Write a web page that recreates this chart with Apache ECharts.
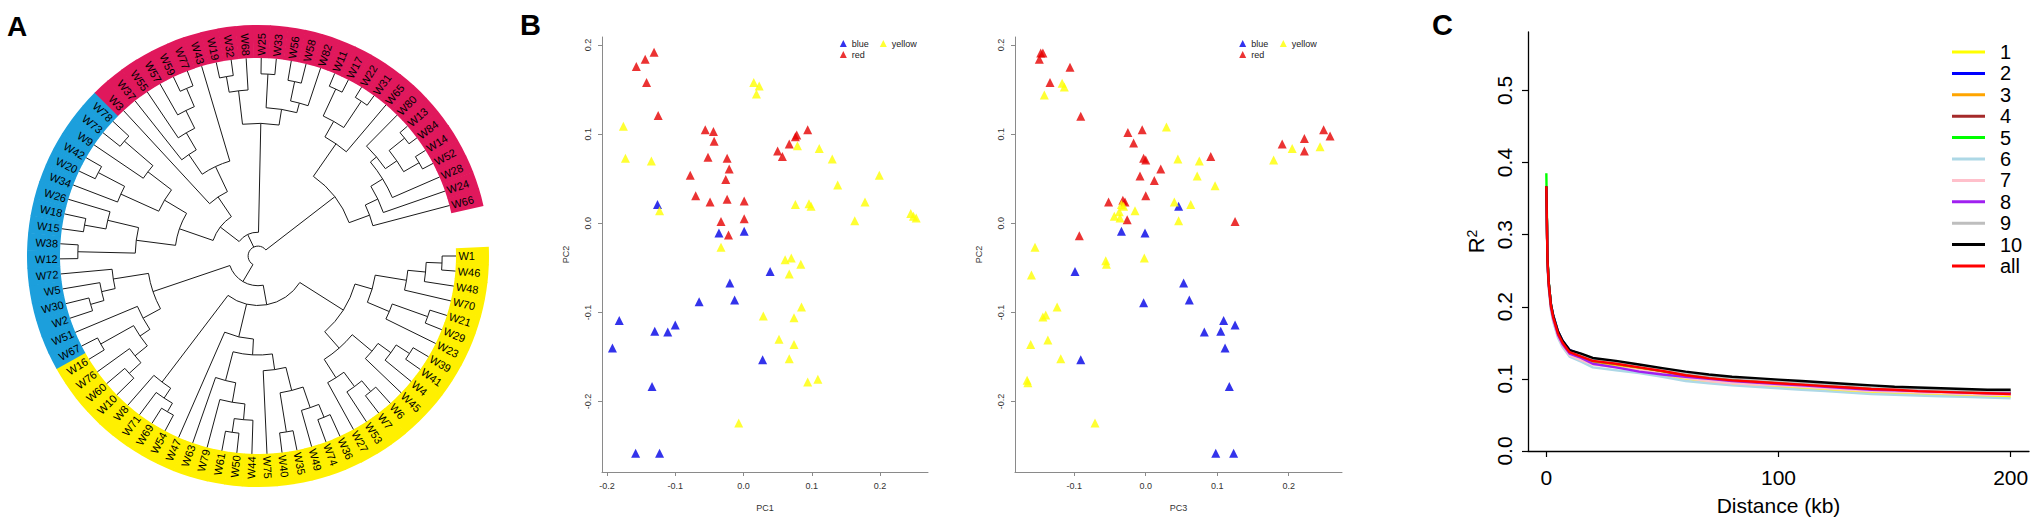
<!DOCTYPE html>
<html>
<head>
<meta charset="utf-8">
<title>Clustering, PCA and LD decay</title>
<script src="https://cdn.jsdelivr.net/npm/echarts@6.0.0/dist/echarts.min.js"></script>
<style>
  html, body { margin: 0; padding: 0; background: #fff; }
  #main { width: 2033px; height: 521px; }
</style>
</head>
<body>
<div id="main"></div>
<script>
// ---------- A: tree (tips clockwise from W1, node value = distance from centre, tips = 1) ----------
var cladeA1 = "((((W1,W46)0.93,W48)0.85,W70)0.76,((W21,W29)0.91,W23)0.72)0.60";
var cladeA2 = "((((W39,W41)0.91,W4)0.83,W45)0.75,(((W6,W7)0.89,W53)0.82,W27)0.73)0.62";
var cladeB1 = "((((W36,W74)0.88,W49)0.81,(W35,W40)0.90)0.70,W75)0.58";
var cladeB2 = "(((W44,(W50,W61)0.90)0.83,W79)0.75,W63)0.65";
var cladeC  = "(((W54,W69)0.91,W71)0.86,W8)0.80";
var cladeBlueLow = "(((((W10,W60)0.88,W76)0.80,(W16,W67)0.91)0.72,W51)0.66,(((W2,W30)0.88,W5)0.81,W72)0.74)0.56";
var cladeBlueUp = "(((W12,W38)0.91,((W15,W18)0.89,W26)0.78)0.62,((W34,(W20,W42)0.91)0.76,(W9,(W73,W78)0.89)0.70)0.55)0.42";
var cladeRedLeft = "(W3,((W37,(W55,(W57,(W59,W77)0.92)0.82)0.72)0.62,W43)0.50)0.36";
var cladeRedMid = "(((W19,W32)0.92,W68)0.84,((W25,W33)0.92,((W56,W58)0.90,W82)0.80)0.75)0.67";
var cladeRedR1 = "(((W11,W17)0.93,(W22,W31)0.94)0.78,W65)0.69";
var cladeRedR2 = "((((W80,((W13,W84)0.95,(W14,W52)0.94)0.85)0.78,W28)0.74,W24)0.67,W66)0.60";

var lowerClade = "(((" + cladeA1 + "," + cladeA2 + ")0.51,((" + cladeB1 + "," + cladeB2 + ")0.50,W47)0.42," + cladeC + ")0.25," + cladeBlueLow + ")0.15";
var upperClade = "((" + cladeBlueUp + "," + cladeRedLeft + ")0.24," + cladeRedMid + ")0.12";
var redRightClade = "(" + cladeRedR1 + "," + cladeRedR2 + ")0.49";
var treeNewick = "(" + lowerClade + "," + upperClade + "," + redRightClade + ")0.05";

var redTips = ['W3','W37','W55','W57','W59','W77','W43','W19','W32','W68','W25','W33','W56','W58','W82',
  'W11','W17','W22','W31','W65','W80','W13','W84','W14','W52','W28','W24','W66'];
var blueTips = ['W67','W51','W2','W30','W5','W72','W12','W38','W15','W18','W26','W34','W20','W42','W9','W73','W78'];

// ---------- B: PCA (left PC1 vs PC2, right PC3 vs PC2) ----------
var pcTicks = [-0.2, -0.1, 0, 0.1, 0.2];
var redPC1 = [-0.157,-0.144,-0.131,-0.142,-0.125,-0.056,-0.044,-0.043,-0.052,-0.024,-0.021,-0.078,-0.026,-0.070,-0.049,-0.024,-0.033,-0.022,0.050,0.057,0.067,0.076,0.078,0.094,0.001,0.001];
var redPC2a = [0.176,0.184,0.192,0.158,0.121,0.105,0.103,0.092,0.074,0.073,0.061,0.054,0.049,0.031,0.024,0.027,0.002,-0.013,0.081,0.075,0.089,0.097,0.099,0.105,0.025,0.005];
var bluePC1 = [-0.126,-0.036,-0.020,-0.013,-0.065,-0.182,-0.192,-0.130,-0.111,-0.100,-0.134,-0.158,-0.123,0.001,0.039,0.028];
var bluePC2a = [0.021,-0.011,-0.067,-0.086,-0.088,-0.109,-0.140,-0.121,-0.122,-0.114,-0.183,-0.258,-0.258,-0.009,-0.054,-0.153];
var yellowPC1 = [-0.176,-0.173,-0.135,-0.123,-0.033,-0.007,0.015,0.023,0.019,0.079,0.111,0.130,0.199,0.138,0.076,0.096,0.099,0.178,0.163,0.245,0.249,0.253,0.061,0.070,0.084,0.067,0.085,0.029,0.074,0.052,0.074,0.067,0.094,0.109];
var yellowPC2a = [0.109,0.073,0.070,0.014,-0.027,-0.224,0.158,0.154,0.145,0.087,0.084,0.072,0.054,0.043,0.021,0.022,0.019,0.024,0.003,0.011,0.008,0.006,-0.041,-0.039,-0.046,-0.057,-0.094,-0.104,-0.106,-0.130,-0.136,-0.152,-0.178,-0.175];

var redPC3 = [-0.147,-0.149,-0.144,-0.106,-0.134,-0.091,-0.025,-0.005,-0.017,-0.003,0.000,0.091,0.021,-0.008,0.012,0.000,-0.052,-0.032,-0.029,-0.026,0.125,-0.093,0.191,0.222,0.222,0.249,0.258];
var redPC2b = [0.191,0.184,0.191,0.175,0.158,0.120,0.102,0.105,0.090,0.073,0.071,0.075,0.061,0.053,0.048,0.031,0.024,0.026,0.024,0.004,0.002,-0.014,0.089,0.095,0.081,0.105,0.098];
var bluePC3 = [0.046,-0.034,-0.001,-0.099,0.053,0.061,-0.003,0.109,0.125,0.082,0.105,0.111,-0.091,0.117,0.098,0.123];
var bluePC2b = [0.019,-0.009,-0.011,-0.054,-0.067,-0.086,-0.089,-0.109,-0.114,-0.122,-0.121,-0.140,-0.153,-0.183,-0.258,-0.258];
var yellowPC3 = [-0.117,-0.114,-0.142,0.029,0.045,0.075,0.072,0.097,0.040,0.063,0.046,-0.015,-0.034,-0.037,-0.044,-0.036,-0.031,-0.155,-0.056,-0.055,-0.002,-0.160,-0.124,-0.144,-0.140,-0.161,-0.137,-0.119,-0.166,-0.165,-0.071,0.179,0.205,0.244];
var yellowPC2b = [0.157,0.153,0.144,0.108,0.072,0.070,0.053,0.042,0.024,0.021,0.003,0.014,0.021,0.013,0.008,0.006,0.019,-0.027,-0.042,-0.046,-0.039,-0.058,-0.094,-0.105,-0.103,-0.136,-0.131,-0.152,-0.176,-0.179,-0.224,0.071,0.084,0.086];

// ---------- C: LD decay ----------
var ldDist = [0,0.5,1,2,3,5,7,10,15,20,30,40,50,60,70,80,90,100,110,120,130,140,150,160,170,180,190,200];
var ld1  = [0.365,0.262,0.230,0.198,0.182,0.160,0.147,0.134,0.128,0.122,0.117,0.112,0.106,0.100,0.096,0.093,0.091,0.089,0.087,0.085,0.083,0.081,0.080,0.079,0.078,0.077,0.076,0.075];
var ld2  = [0.366,0.265,0.234,0.203,0.188,0.166,0.153,0.140,0.134,0.128,0.124,0.118,0.112,0.107,0.103,0.100,0.098,0.096,0.093,0.091,0.089,0.087,0.085,0.084,0.082,0.081,0.080,0.079];
var ld3  = [0.364,0.262,0.232,0.200,0.184,0.162,0.149,0.136,0.130,0.124,0.120,0.115,0.110,0.104,0.100,0.097,0.095,0.093,0.091,0.089,0.087,0.085,0.084,0.083,0.081,0.080,0.079,0.079];
var ld4  = [0.366,0.264,0.233,0.201,0.185,0.164,0.151,0.138,0.132,0.126,0.122,0.117,0.112,0.106,0.102,0.099,0.097,0.095,0.093,0.091,0.089,0.087,0.086,0.085,0.084,0.083,0.082,0.082];
var ld5  = [0.385,0.268,0.235,0.202,0.186,0.164,0.150,0.137,0.131,0.125,0.121,0.116,0.111,0.105,0.101,0.098,0.096,0.094,0.092,0.090,0.088,0.086,0.085,0.084,0.083,0.082,0.081,0.080];
var ld6  = [0.362,0.258,0.227,0.195,0.179,0.157,0.144,0.131,0.124,0.116,0.112,0.108,0.103,0.097,0.094,0.091,0.089,0.087,0.085,0.083,0.081,0.079,0.078,0.077,0.076,0.075,0.074,0.073];
var ld7  = [0.363,0.260,0.229,0.197,0.181,0.159,0.146,0.133,0.126,0.120,0.116,0.112,0.107,0.101,0.097,0.094,0.092,0.091,0.089,0.087,0.085,0.083,0.082,0.081,0.080,0.079,0.078,0.078];
var ld8  = [0.364,0.261,0.230,0.199,0.183,0.161,0.148,0.135,0.129,0.121,0.116,0.110,0.106,0.103,0.100,0.097,0.095,0.093,0.091,0.089,0.087,0.085,0.084,0.083,0.082,0.081,0.080,0.080];
var ld9  = [0.366,0.264,0.233,0.202,0.186,0.165,0.152,0.139,0.133,0.127,0.123,0.118,0.113,0.108,0.104,0.101,0.099,0.097,0.095,0.093,0.091,0.089,0.087,0.086,0.085,0.084,0.083,0.083];
var ld10 = [0.367,0.265,0.234,0.203,0.187,0.166,0.153,0.140,0.135,0.129,0.125,0.120,0.115,0.110,0.106,0.103,0.101,0.099,0.097,0.095,0.093,0.091,0.089,0.088,0.087,0.086,0.085,0.085];
var ldAll = [0.367,0.264,0.233,0.201,0.185,0.163,0.150,0.137,0.131,0.125,0.121,0.116,0.111,0.105,0.101,0.098,0.096,0.094,0.092,0.090,0.088,0.086,0.085,0.083,0.082,0.081,0.080,0.079];
var ldNames = ['1','2','3','4','5','6','7','8','9','10','all'];
var ldSeries = [ld1, ld2, ld3, ld4, ld5, ld6, ld7, ld8, ld9, ld10, ldAll];
var ldColors = ['#ffff00','#0000ff','#ffa500','#a52a2a','#00ff00','#add8e6','#ffc0cb','#a020f0','#bebebe','#000000','#ff0000'];
var ldTicksX = [0, 100, 200];
var ldTicksY = [0, 0.1, 0.2, 0.3, 0.4, 0.5];

// ---------- layout ----------
var FONT = 'Liberation Sans, Arial, Helvetica, sans-serif';
var tipStep = 4.37;            // degrees between neighbouring tips
var ringOuter = 231 / 198;     // ring outer edge in tip units
var ringColors = { red: '#e0185c', blue: '#1c9fdc', yellow: '#fff000' };

function parseNewick(s) {
  var pos = 0;
  function node() {
    if (s[pos] === '(') {
      pos++;
      var kids = [];
      while (true) {
        kids.push(node());
        if (s[pos] === ',') { pos++; continue; }
        pos++; // ')'
        break;
      }
      var m = /^[0-9.]+/.exec(s.slice(pos));
      pos += m[0].length;
      return { r: parseFloat(m[0]), kids: kids };
    }
    var n = /^[A-Za-z0-9]+/.exec(s.slice(pos))[0];
    pos += n.length;
    return { name: n, r: 1 };
  }
  return node();
}

var tips = [], radials = [], arcs = [];
function layoutTree(n) {
  if (!n.kids) { n.a = -tips.length * tipStep; tips.push(n); return; }
  n.kids.forEach(layoutTree);
  var first = n.kids[0].a, last = n.kids[n.kids.length - 1].a;
  n.a = (first + last) / 2;
  arcs.push([n.r, first, last]);
  n.kids.forEach(function (k) { radials.push([n.r, k.a, k.r]); });
}
layoutTree(parseNewick(treeNewick));

function groupOf(name) {
  if (redTips.indexOf(name) >= 0) return 'red';
  if (blueTips.indexOf(name) >= 0) return 'blue';
  return 'yellow';
}
function dist(p, c) { return Math.sqrt((p[0] - c[0]) * (p[0] - c[0]) + (p[1] - c[1]) * (p[1] - c[1])); }
function ang(p, c) { return Math.atan2(p[1] - c[1], p[0] - c[0]); }

function renderRadial(params, api) {
  var a = api.value(1);
  var p1 = api.coord([api.value(0), a]);
  var p2 = api.coord([api.value(2), a]);
  return { type: 'line', shape: { x1: p1[0], y1: p1[1], x2: p2[0], y2: p2[1] },
    style: { stroke: '#1a1a1a', lineWidth: 1 } };
}
function renderArc(params, api) {
  var c = api.coord([0, 0]);
  var r = api.value(0);
  var p1 = api.coord([r, api.value(1)]), p2 = api.coord([r, api.value(2)]);
  var s = ang(p1, c), e = ang(p2, c);
  while (e < s) e += 2 * Math.PI;
  return { type: 'arc', shape: { cx: c[0], cy: c[1], r: dist(p1, c), startAngle: s, endAngle: e, clockwise: true },
    style: { stroke: '#1a1a1a', fill: null, lineWidth: 1 } };
}
function renderTip(params, api) {
  var t = tips[params.dataIndex];
  var a = api.value(1);
  var c = api.coord([0, 0]);
  var r0 = dist(api.coord([1, a]), c);
  var r1 = dist(api.coord([ringOuter, a]), c);
  var s = ang(api.coord([1, a + tipStep / 2 + 0.08]), c);
  var e = ang(api.coord([1, a - tipStep / 2 - 0.08]), c);
  while (e < s) e += 2 * Math.PI;
  var deg = ((a % 360) + 360) % 360;
  var rad = deg * Math.PI / 180;
  var right = Math.cos(rad) >= 0;
  var lp = api.coord([1.012, a]);
  return { type: 'group', children: [
    { type: 'sector', shape: { cx: c[0], cy: c[1], r0: r0, r: r1, startAngle: s, endAngle: e, clockwise: true },
      style: { fill: ringColors[groupOf(t.name)] } },
    { type: 'text', x: lp[0], y: lp[1], rotation: right ? rad : rad - Math.PI,
      style: { text: t.name, x: 0, y: 0, align: right ? 'left' : 'right', verticalAlign: 'middle',
        fontSize: 11, fontFamily: FONT, fill: '#000' } }
  ] };
}

function zip(a, b) { return a.map(function (v, i) { return [v, b[i]]; }); }
function fmt1(v) { return v.toFixed(1); }

var pcAxisLine = { show: true, onZero: false, lineStyle: { color: '#8a8a8a', width: 1 } };
function pcX(grid, min, max, name) {
  return { gridIndex: grid, type: 'value', min: min, max: max,
    axisLine: pcAxisLine,
    axisTick: { show: true, customValues: pcTicks, length: 4, lineStyle: { color: '#8a8a8a' } },
    axisLabel: { customValues: pcTicks, formatter: fmt1, fontSize: 9, color: '#333', margin: 9, fontFamily: FONT },
    splitLine: { show: false },
    name: name, nameLocation: 'middle', nameGap: 31, nameTextStyle: { fontSize: 9, color: '#333', fontFamily: FONT } };
}
function pcY(grid, name) {
  return { gridIndex: grid, type: 'value', min: -0.279, max: 0.209,
    axisLine: pcAxisLine,
    axisTick: { show: true, customValues: pcTicks, length: 4, lineStyle: { color: '#8a8a8a' } },
    axisLabel: { customValues: pcTicks, formatter: fmt1, fontSize: 9, color: '#333', margin: 10, rotate: 90, fontFamily: FONT },
    splitLine: { show: false },
    name: name, nameLocation: 'middle', nameGap: 32, nameRotate: 90, nameTextStyle: { fontSize: 9, color: '#333', fontFamily: FONT } };
}
var pcColors = { blue: '#0000e6', red: '#e60000', yellow: '#ffff00' };
function pcSeries(name, grid, data) {
  return { type: 'scatter', name: name, xAxisIndex: grid, yAxisIndex: grid, data: data,
    symbol: 'triangle', symbolSize: 9, itemStyle: { color: pcColors[name] }, silent: true };
}
function pcLegend(names, left) {
  return { data: names, orient: 'vertical', left: left, top: 38, padding: 0, itemGap: 0,
    itemWidth: 7, itemHeight: 7, icon: 'triangle', selectedMode: false,
    textStyle: { fontSize: 9, color: '#222', lineHeight: 11, fontFamily: FONT } };
}

var series = [
  { type: 'custom', name: 'ring', coordinateSystem: 'polar', polarIndex: 0, silent: true,
    data: tips.map(function (t) { return [1, t.a]; }), renderItem: renderTip },
  { type: 'custom', name: 'radial', coordinateSystem: 'polar', polarIndex: 0, silent: true,
    data: radials, renderItem: renderRadial },
  { type: 'custom', name: 'arcs', coordinateSystem: 'polar', polarIndex: 0, silent: true,
    data: arcs, renderItem: renderArc },
  pcSeries('blue', 0, zip(bluePC1, bluePC2a)),
  pcSeries('red', 0, zip(redPC1, redPC2a)),
  pcSeries('yellow', 0, zip(yellowPC1, yellowPC2a)),
  pcSeries('blue', 1, zip(bluePC3, bluePC2b)),
  pcSeries('red', 1, zip(redPC3, redPC2b)),
  pcSeries('yellow', 1, zip(yellowPC3, yellowPC2b))
];
ldSeries.forEach(function (vals, i) {
  series.push({ type: 'line', name: ldNames[i], xAxisIndex: 2, yAxisIndex: 2,
    data: zip(ldDist, vals), symbol: 'none', showSymbol: false, silent: true,
    color: ldColors[i], lineStyle: { color: ldColors[i], width: 2.4 }, itemStyle: { color: ldColors[i] } });
});

var option = {
  animation: false,
  backgroundColor: '#ffffff',
  textStyle: { fontFamily: FONT },
  polar: [{ center: [258, 256], radius: 231 }],
  angleAxis: [{ polarIndex: 0, type: 'value', min: -360, max: 0, startAngle: 0, clockwise: false, show: false }],
  radiusAxis: [{ polarIndex: 0, type: 'value', min: 0, max: ringOuter, show: false }],
  grid: [
    { left: 602, top: 37, width: 326, height: 435 },
    { left: 1015, top: 37, width: 327, height: 435 },
    { left: 1528, top: 32, width: 501, height: 420 }
  ],
  xAxis: [
    pcX(0, -0.2073, 0.2703, 'PC1'),
    pcX(1, -0.183, 0.2747, 'PC3'),
    { gridIndex: 2, type: 'value', min: -7.9, max: 207.9,
      axisLine: { show: true, onZero: false, lineStyle: { color: '#000', width: 1.3 } },
      axisTick: { show: true, customValues: ldTicksX, length: 6, lineStyle: { color: '#000', width: 1.2 } },
      axisLabel: { customValues: ldTicksX, fontSize: 21, color: '#000', margin: 16, fontFamily: FONT },
      splitLine: { show: false },
      name: 'Distance (kb)', nameLocation: 'middle', nameGap: 44,
      nameTextStyle: { fontSize: 21, color: '#000', fontFamily: FONT } }
  ],
  yAxis: [
    pcY(0, 'PC2'),
    pcY(1, 'PC2'),
    { gridIndex: 2, type: 'value', min: 0, max: 0.581,
      axisLine: { show: true, onZero: false, lineStyle: { color: '#000', width: 1.3 } },
      axisTick: { show: true, customValues: ldTicksY, length: 6, lineStyle: { color: '#000', width: 1.2 } },
      axisLabel: { customValues: ldTicksY, formatter: fmt1, fontSize: 21, color: '#000', margin: 13, rotate: 90, fontFamily: FONT },
      splitLine: { show: false },
      name: '{r|R}{s|2}', nameLocation: 'middle', nameGap: 41, nameRotate: 90,
      nameTextStyle: { color: '#000', fontFamily: FONT,
        rich: { r: { fontSize: 22, color: '#000', fontFamily: FONT, verticalAlign: 'bottom' },
                s: { fontSize: 14, color: '#000', fontFamily: FONT, verticalAlign: 'top' } } } }
  ],
  legend: [
    pcLegend(['blue', 'red'], 839.8),
    pcLegend(['yellow'], 879.8),
    pcLegend(['blue', 'red'], 1239.2),
    pcLegend(['yellow'], 1279.8),
    { data: ldNames, orient: 'vertical', left: 1952, top: 41.3, padding: 0, itemGap: 0,
      itemWidth: 33, itemHeight: 3, icon: 'rect', selectedMode: false,
      textStyle: { fontSize: 20, color: '#000', lineHeight: 21.4, padding: [0, 0, 0, 10], fontFamily: FONT } }
  ],
  graphic: [
    { type: 'text', left: 7, top: 12, style: { text: 'A', font: 'bold 28px ' + FONT, fill: '#000' } },
    { type: 'text', left: 520, top: 10, style: { text: 'B', font: 'bold 29px ' + FONT, fill: '#000' } },
    { type: 'text', left: 1432, top: 10, style: { text: 'C', font: 'bold 29px ' + FONT, fill: '#000' } }
  ],
  series: series
};

var chart = echarts.init(document.getElementById('main'), null, { renderer: 'svg' });
chart.setOption(option);
</script>
</body>
</html>
